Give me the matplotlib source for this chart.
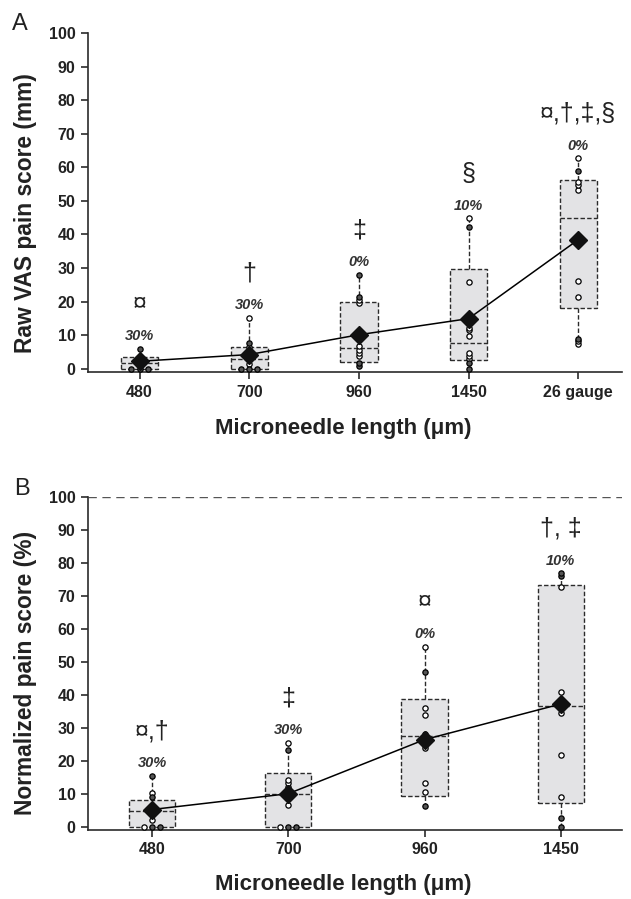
import matplotlib
matplotlib.use('Agg')
import matplotlib.pyplot as plt
import numpy as np

plt.rcParams['font.family'] = ['Liberation Sans', 'DejaVu Sans']

# ---- Panel A: raw VAS pain score (mm)
groups_a = ['480', '700', '960', '1450', '26 gauge']
q1_a = [0.0, 0.0, 1.9, 2.5, 18.1]
q3_a = [3.4, 6.4, 20.0, 29.7, 56.3]
med_a = [1.8, 3.0, 6.2, 7.6, 44.8]
mean_a = [2.2, 4.2, 10.1, 14.9, 38.4]
pts_a = [
    [0, 0, 0, 0.8, 1.5, 2.0, 2.6, 3.0, 3.4, 5.9],
    [0, 0, 0, 1.5, 3.0, 3.5, 5.0, 6.4, 7.6, 15.1],
    [0.9, 1.7, 3.7, 4.7, 5.7, 6.8, 19.5, 20.5, 21.3, 28.0],
    [0, 1.7, 2.9, 3.9, 4.7, 9.8, 11.6, 12.1, 25.7, 42.1, 44.8],
    [7.3, 8.1, 8.8, 21.3, 26.0, 53.1, 54.8, 55.7, 58.9, 62.7],
]
filled_a = [
    [1, 1, 1, 0, 0, 0, 0, 0, 0, 1],
    [1, 1, 1, 0, 0, 0, 0, 0, 1, 0],
    [1, 1, 0, 0, 0, 0, 0, 0, 1, 1],
    [1, 1, 0, 0, 0, 0, 0, 0, 0, 1, 0],
    [0, 0, 1, 0, 0, 0, 0, 0, 1, 0],
]
zero_a = ['30%', '30%', '0%', '10%', '0%']
sig_a = ['\u00a4', '\u2020', '\u2021', '\u00a7', '\u00a4,\u2020,\u2021,\u00a7']

# ---- Panel B: normalized pain score (%)
groups_b = ['480', '700', '960', '1450']
q1_b = [0.0, 0.0, 9.2, 7.2]
q3_b = [8.0, 16.3, 38.7, 73.2]
med_b = [4.9, 10.0, 27.6, 36.5]
mean_b = [5.2, 10.0, 26.4, 37.2]
pts_b = [
    [0, 0, 0, 2.0, 4.0, 5.0, 6.0, 9.0, 10.2, 15.5],
    [0, 0, 0, 6.5, 10.0, 12.0, 13.2, 14.2, 23.3, 25.5],
    [6.4, 10.4, 13.2, 24.0, 28.0, 33.9, 36.0, 47.0, 54.6],
    [0, 2.6, 8.9, 21.7, 34.6, 37.0, 40.7, 72.8, 76.1, 76.9],
]
filled_b = [
    [0, 1, 1, 0, 0, 0, 0, 1, 0, 1],
    [0, 1, 1, 0, 0, 0, 0, 0, 1, 0],
    [1, 0, 0, 0, 0, 0, 0, 1, 0],
    [1, 1, 0, 0, 0, 0, 0, 0, 1, 1],
]
zero_b = ['30%', '30%', '0%', '10%']
sig_b = ['\u00a4,\u2020', '\u2021', '\u00a4', '\u2020, \u2021']

DARK = '#2b2b2b'
BOXFILL = '#e3e3e5'
DASH = (0, (3.2, 1.6))


def draw_panel(ax, groups, q1, q3, med, mean, pts, filled, zero, sig, spread, xmax):
    pos = np.arange(len(groups))
    stats = []
    for i in range(len(groups)):
        stats.append(dict(med=med[i], q1=q1[i], q3=q3[i],
                          whislo=min(pts[i]), whishi=max(pts[i]), fliers=[]))
    ax.bxp(stats, positions=pos, widths=0.34, patch_artist=True,
           showcaps=False, showfliers=False, showmeans=False,
           boxprops=dict(facecolor=BOXFILL, edgecolor=DARK, linestyle=DASH, linewidth=1.0),
           whiskerprops=dict(color=DARK, linestyle=DASH, linewidth=1.0),
           medianprops=dict(color=DARK, linestyle=DASH, linewidth=1.0),
           zorder=2)

    for i in range(len(groups)):
        v = np.array(pts[i], dtype=float)
        x = np.full(len(v), float(pos[i]))
        # spread tied values sideways
        for val in np.unique(v):
            idx = np.where(v == val)[0]
            if len(idx) > 1:
                x[idx] = pos[i] + (np.arange(len(idx)) - (len(idx) - 1) / 2) * spread
        f = np.array(filled[i], dtype=bool)
        ax.plot(x[~f], v[~f], 'o', ms=3.8, mfc='white', mec='black', mew=0.9,
                ls='none', zorder=3)
        ax.plot(x[f], v[f], 'o', ms=3.8, mfc='#555555', mec='black', mew=0.9,
                ls='none', zorder=3)

        ax.annotate(zero[i], (pos[i], max(pts[i])), xytext=(0, 9),
                    textcoords='offset points', ha='center', va='center',
                    fontsize=10.5, fontweight='bold', fontstyle='italic', color='#333333')
        ax.annotate(sig[i], (pos[i], max(pts[i])), xytext=(0, 32),
                    textcoords='offset points', ha='center', va='center',
                    fontsize=18, color='#222222')

    ax.plot(pos, mean, '-', color='black', lw=1.1, zorder=4)
    ax.plot(pos, mean, 'D', ms=9, color='#111111', zorder=5)

    ax.set_xlim(-0.47, xmax)
    ax.set_ylim(-1, 100)
    ax.set_yticks(np.arange(0, 101, 10))
    ax.set_xticks(pos)
    ax.set_xticklabels(groups)
    for s in ['top', 'right']:
        ax.spines[s].set_visible(False)
    for s in ['left', 'bottom']:
        ax.spines[s].set_linewidth(1.2)
        ax.spines[s].set_color(DARK)
    ax.tick_params(axis='both', length=5, width=1.2, color=DARK, labelsize=11.5,
                   pad=4)
    for lab in ax.get_xticklabels() + ax.get_yticklabels():
        lab.set_fontweight('bold')
        lab.set_color('#222222')


fig = plt.figure(figsize=(6.31, 8.99), dpi=100)
axA = fig.add_axes([0.1395, 0.5862, 0.8463, 0.3771])
axB = fig.add_axes([0.1395, 0.0768, 0.8463, 0.3704])

draw_panel(axA, groups_a, q1_a, q3_a, med_a, mean_a, pts_a, filled_a, zero_a, sig_a, 0.075, 4.4)
draw_panel(axB, groups_b, q1_b, q3_b, med_b, mean_b, pts_b, filled_b, zero_b, sig_b, 0.06, 3.45)

axB.axhline(100, color='#555555', lw=1.0, ls=(0, (6, 4)), zorder=1)

axA.set_ylabel('Raw VAS pain score (mm)', fontsize=16.4, fontweight='bold', color='#222222')
axB.set_ylabel('Normalized pain score (%)', fontsize=16.4, fontweight='bold', color='#222222')
axA.yaxis.set_label_coords(-0.0955, 0.469)
axB.yaxis.set_label_coords(-0.0955, 0.471)
axA.set_xlabel('Microneedle length (\u03bcm)', fontsize=16, fontweight='bold', color='#222222')
axB.set_xlabel('Microneedle length (\u03bcm)', fontsize=16, fontweight='bold', color='#222222')
axA.xaxis.set_label_coords(0.4775, -0.135)
axB.xaxis.set_label_coords(0.4775, -0.132)

fig.text(0.019, 0.9666, 'A', fontsize=17, va='baseline', color='#222222')
fig.text(0.022, 0.4494, 'B', fontsize=17, va='baseline', color='#222222')

fig.savefig('out.png', dpi=100)
